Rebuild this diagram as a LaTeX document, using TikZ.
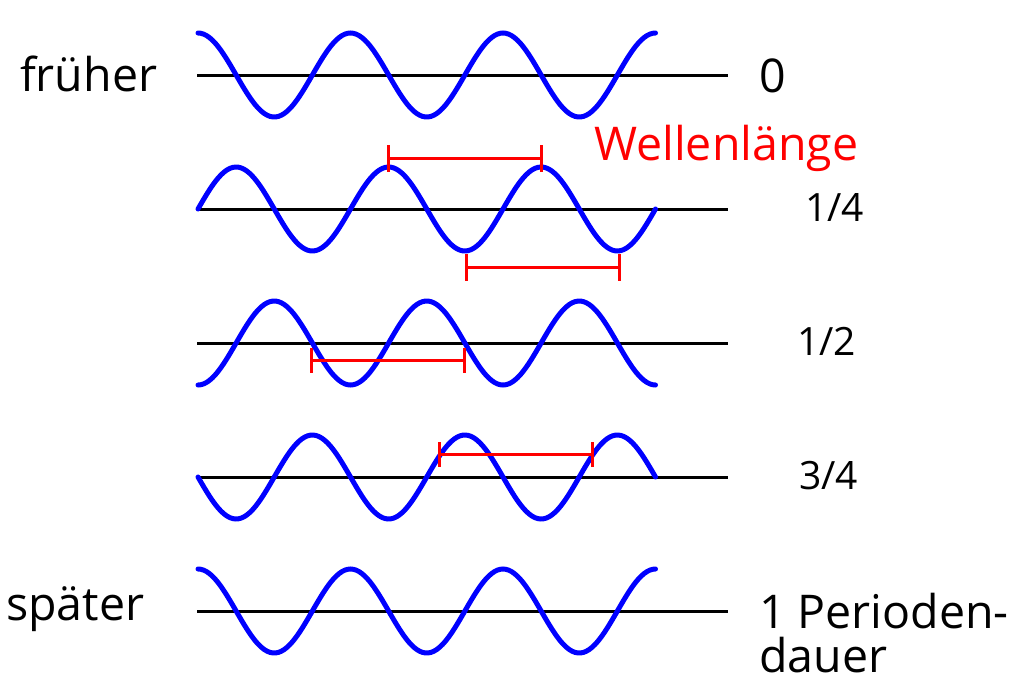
\documentclass[tikz,border=0pt]{standalone}
\usepackage{fontspec}
\setmainfont{Open Sans}
\begin{document}
\begin{tikzpicture}[x=1pt,y=-1pt,
  axisline/.style={black,line width=3pt},
  wave/.style={line width=5pt,line cap=round},
  bracket/.style={line width=3pt},
  lbl/.style={inner sep=0pt,font=\fontsize{46.5}{50}\selectfont},
  frac/.style={inner sep=0pt,font=\fontsize{39}{44}\selectfont}]
\definecolor{wblue}{RGB}{0,0,255}
\definecolor{wred}{RGB}{255,0,0}
\useasboundingbox (0,0) rectangle (1024,683);
% axes
\foreach \r/\yy in {1/75,2/209,3/343,4/477,5/611}{
  \coordinate (a\r l) at (197,\yy);
  \coordinate (a\r r) at (728,\yy);
  \draw[axisline] (a\r l) -- (a\r r);
}
% waves
\draw[wave,color=wblue] plot[domain=198:655.5,samples=160,smooth] (\x,{75-42*cos((\x-198)/152.5*360)});
\draw[wave,color=wblue] plot[domain=198:655.5,samples=160,smooth] (\x,{209-42*sin((\x-198)/152.5*360)});
\draw[wave,color=wblue] plot[domain=198:655.5,samples=160,smooth] (\x,{343+42*cos((\x-198)/152.5*360)});
\draw[wave,color=wblue] plot[domain=198:655.5,samples=160,smooth] (\x,{477+42*sin((\x-198)/152.5*360)});
\draw[wave,color=wblue] plot[domain=198:655.5,samples=160,smooth] (\x,{611-42*cos((\x-198)/152.5*360)});
% brackets
\foreach \n/\xa/\xb/\yy/\h in {b1/388/541/158/13.5, b2/466/619/267/13.5, b3/311/464/360/12.5, b4/439/592/454/12.5}{
  \coordinate (\n l) at (\xa,\yy);
  \coordinate (\n r) at (\xb,\yy);
  \draw[bracket,color=wred] (\n l) -- (\n r);
  \draw[bracket,color=wred] ([yshift=-\h pt]\n l) -- ([yshift=\h pt]\n l);
  \draw[bracket,color=wred] ([yshift=-\h pt]\n r) -- ([yshift=\h pt]\n r);
}
% labels
\node[lbl,anchor=base west] (frueher) at (20,91) {früher};
\node[lbl,anchor=base west] (spaeter) at (6,620) {später};
\node[lbl,anchor=base west] (t0) at (759,92) {0};
\node[lbl,anchor=base west,text=wred] (wl) at (594,160) {Wellenlänge};
\node[frac,anchor=base west] (t1) at (805,221) {1/4};
\node[frac,anchor=base west] (t2) at (797,355) {1/2};
\node[frac,anchor=base west] (t3) at (799,489) {3/4};
\node[lbl,anchor=base west] (t4) at (759,628) {1 Perioden-};
\node[lbl,anchor=base west] (t5) at (759,672) {dauer};
\end{tikzpicture}
\end{document}
